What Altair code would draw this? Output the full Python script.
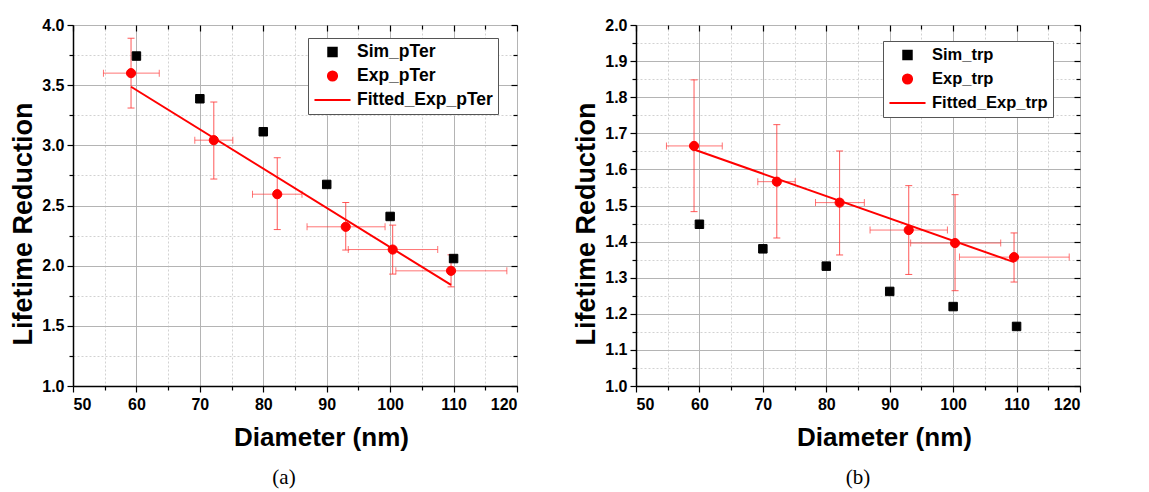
import altair as alt
import pandas as pd

FONT = "Liberation Sans"
SERIF = "Liberation Serif"

# ---------------- data ----------------
diameters = [60, 70, 80, 90, 100, 110]
x_major_ticks = [50, 60, 70, 80, 90, 100, 110, 120]
x_minor_ticks = [55, 65, 75, 85, 95, 105, 115]

# panel (a)
a_names = ["Sim_pTer", "Exp_pTer", "Fitted_Exp_pTer"]
a_sim = [3.742, 3.387, 3.113, 2.675, 2.409, 2.059]
a_exp_x = [59.15, 72.2, 82.2, 93.0, 100.4, 109.6]
a_exp_y = [3.600, 3.043, 2.594, 2.323, 2.134, 1.957]
a_exp_ylo = [3.31, 2.72, 2.30, 2.13, 1.93, 1.824]
a_exp_yhi = [3.89, 3.36, 2.897, 2.525, 2.337, 2.09]
a_exp_xlo = [54.8, 69.2, 78.3, 86.9, 93.4, 100.9]
a_exp_xhi = [63.6, 75.2, 86.1, 99.2, 107.5, 118.4]
a_fit_x = [59.15, 109.6]
a_fit_y = [3.487, 1.840]
a_y_major = [1.0, 1.5, 2.0, 2.5, 3.0, 3.5, 4.0]
a_y_minor = [1.25, 1.75, 2.25, 2.75, 3.25, 3.75]

# panel (b)
b_names = ["Sim_trp", "Exp_trp", "Fitted_Exp_trp"]
b_sim = [1.448, 1.380, 1.332, 1.262, 1.220, 1.165]
b_exp_x = [59.15, 72.2, 82.1, 93.0, 100.3, 109.6]
b_exp_y = [1.665, 1.566, 1.508, 1.432, 1.396, 1.357]
b_exp_ylo = [1.483, 1.410, 1.363, 1.309, 1.264, 1.288]
b_exp_yhi = [1.848, 1.724, 1.651, 1.555, 1.530, 1.424]
b_exp_xlo = [54.8, 69.2, 78.3, 86.9, 93.3, 101.0]
b_exp_xhi = [63.6, 75.1, 86.0, 99.1, 107.5, 118.3]
b_fit_x = [59.15, 109.6]
b_fit_y = [1.655, 1.343]
b_y_major = [1.0, 1.1, 1.2, 1.3, 1.4, 1.5, 1.6, 1.7, 1.8, 1.9, 2.0]
b_y_minor = [1.05, 1.15, 1.25, 1.35, 1.45, 1.55, 1.65, 1.75, 1.85, 1.95]

series_colors = ["black", "red", "red"]
series_shapes = ["square", "circle", "stroke"]
series_sizes = [72, 84, 1300]

W, H = 444, 361
GRID = "#b4b4b4"
MINOR_GRID = "#d2d2d2"


def panel(names, sim_y, ex, ey, ylo, yhi, xlo, xhi, fx, fy, ydom, ymaj, ymin,
          legx, legy, leg_font, caption, cap_dx):
    sim_df = pd.DataFrame({"d": diameters, "v": sim_y, "series": names[0]})
    exp_df = pd.DataFrame({"d": ex, "v": ey, "ylo": ylo, "yhi": yhi,
                           "xlo": xlo, "xhi": xhi, "series": names[1]})
    fit_df = pd.DataFrame({"d": fx, "v": fy})

    xs = alt.Scale(domain=[50, 120], nice=False, zero=False)
    ys = alt.Scale(domain=ydom, nice=False, zero=False)

    common_lab = dict(labelFont=FONT, labelFontSize=16, labelFontWeight="bold",
                      labelColor="black")
    common_title = dict(titleFont=FONT, titleFontWeight="bold", titleColor="black")

    x_major = alt.Axis(orient="bottom", values=x_major_ticks, format="d",
                       title="Diameter (nm)", titleFontSize=26, titlePadding=12,
                       titleX=W / 2 + 26,
                       grid=True, gridColor=GRID, gridWidth=1,
                       tickSize=6, tickColor="black", tickWidth=1.2,
                       domain=True, domainColor="black", domainWidth=1.5,
                       labelPadding=4, **common_lab, **common_title)
    y_major = alt.Axis(orient="left", values=ymaj, format=".1f",
                       title="Lifetime Reduction", titleFontSize=27, titlePadding=4,
                       titleY=H / 2 + 18,
                       grid=True, gridColor=GRID, gridWidth=1,
                       tickSize=6, tickColor="black", tickWidth=1.2,
                       domain=True, domainColor="black", domainWidth=1.5,
                       labelPadding=3, **common_lab, **common_title)
    x_minor = alt.Axis(orient="bottom", values=x_minor_ticks, title=None,
                       labels=False, domain=False, grid=True,
                       gridColor=MINOR_GRID, gridDash=[2, 2], gridWidth=1,
                       tickSize=4, tickColor="black", tickWidth=1.2)
    y_minor = alt.Axis(orient="left", values=ymin, title=None,
                       labels=False, domain=False, grid=True,
                       gridColor=MINOR_GRID, gridDash=[2, 2], gridWidth=1,
                       tickSize=4, tickColor="black", tickWidth=1.2)
    x_top = alt.Axis(orient="top", values=x_major_ticks, title=None, labels=False,
                     domain=False, grid=False, tickSize=6, offset=-6,
                     tickColor="black", tickWidth=1.2)
    y_right = alt.Axis(orient="right", values=ymaj, title=None, labels=False,
                       domain=False, grid=False, tickSize=6, offset=-6,
                       tickColor="black", tickWidth=1.2)
    x_top_m = alt.Axis(orient="top", values=x_minor_ticks, title=None, labels=False,
                       domain=False, grid=False, tickSize=4, offset=-4,
                       tickColor="black", tickWidth=1.2)
    y_right_m = alt.Axis(orient="right", values=ymin, title=None, labels=False,
                         domain=False, grid=False, tickSize=4, offset=-4,
                         tickColor="black", tickWidth=1.2)

    color_scale = alt.Scale(domain=names, range=series_colors)
    shape_scale = alt.Scale(domain=names, range=series_shapes)
    size_scale = alt.Scale(type="ordinal", domain=names, range=series_sizes)
    legend = alt.Legend(
        title=None, orient="none", legendX=legx, legendY=legy,
        fillColor="white", strokeColor="#555555", padding=5,
        labelFont=FONT, labelFontSize=leg_font, labelFontWeight="bold",
        labelColor="black", clipHeight=18,
        symbolStrokeWidth=2, labelOffset=5, rowPadding=6, symbolOpacity=1,
    )

    def enc_series():
        return dict(
            fill=alt.Fill("series:N", scale=color_scale, legend=legend),
            stroke=alt.Stroke("series:N", scale=color_scale, legend=legend),
            shape=alt.Shape("series:N", scale=shape_scale, legend=legend),
            size=alt.Size("series:N", scale=size_scale, legend=legend),
        )

    vbars = alt.Chart(exp_df).mark_errorbar(
        ticks=alt.MarkConfig(size=7), color="#ff3b3b", opacity=0.85,
        thickness=1).encode(
        x=alt.X("d:Q", scale=xs, axis=x_minor),
        y=alt.Y("ylo:Q", scale=ys, axis=y_minor),
        y2="yhi:Q",
    )
    hbars = alt.Chart(exp_df).mark_errorbar(
        ticks=alt.MarkConfig(size=7), color="#ff3b3b", opacity=0.7,
        thickness=1).encode(
        x=alt.X("xlo:Q", scale=xs, axis=x_top),
        x2="xhi:Q",
        y=alt.Y("v:Q", scale=ys, axis=y_right),
    )
    fit = alt.Chart(fit_df).mark_line(color="red", strokeWidth=2).encode(
        x=alt.X("d:Q", scale=xs, axis=x_top_m),
        y=alt.Y("v:Q", scale=ys, axis=y_right_m),
    )
    sims = alt.Chart(sim_df).mark_point(filled=True, opacity=1, strokeWidth=1).encode(
        x=alt.X("d:Q", scale=xs, axis=x_major),
        y=alt.Y("v:Q", scale=ys, axis=y_major),
        **enc_series(),
    )
    exps = alt.Chart(exp_df).mark_point(filled=True, opacity=1, strokeWidth=1).encode(
        x=alt.X("d:Q", scale=xs, axis=None),
        y=alt.Y("v:Q", scale=ys, axis=None),
        **enc_series(),
    )
    return alt.layer(vbars, hbars, fit, sims, exps).resolve_axis(
        x="independent", y="independent"
    ).properties(
        width=W, height=H,
        title=alt.TitleParams(caption, orient="bottom", font=SERIF, fontSize=21,
                              fontWeight="normal", color="black", dx=cap_dx,
                              offset=17, anchor="middle"),
    )


pa = panel(a_names, a_sim, a_exp_x, a_exp_y, a_exp_ylo, a_exp_yhi, a_exp_xlo,
           a_exp_xhi, a_fit_x, a_fit_y, [1.0, 4.0], a_y_major, a_y_minor,
           235, 13, 17.5, "(a)", -11)
pb = panel(b_names, b_sim, b_exp_x, b_exp_y, b_exp_ylo, b_exp_yhi, b_exp_xlo,
           b_exp_xhi, b_fit_x, b_fit_y, [1.0, 2.0], b_y_major, b_y_minor,
           247, 16, 16.5, "(b)", 0)

chart = alt.hconcat(pa, pb, spacing=53).resolve_scale(
    fill="independent", stroke="independent", shape="independent",
    size="independent", x="independent", y="independent"
).resolve_legend(
    fill="independent", stroke="independent", shape="independent",
    size="independent"
).properties(
    padding={"left": 1, "top": 8, "right": 5, "bottom": 0}
).configure_view(stroke="black", strokeWidth=1.5).configure(background="white")

chart.save("out.html", embed_options={"renderer": "svg", "actions": False})
